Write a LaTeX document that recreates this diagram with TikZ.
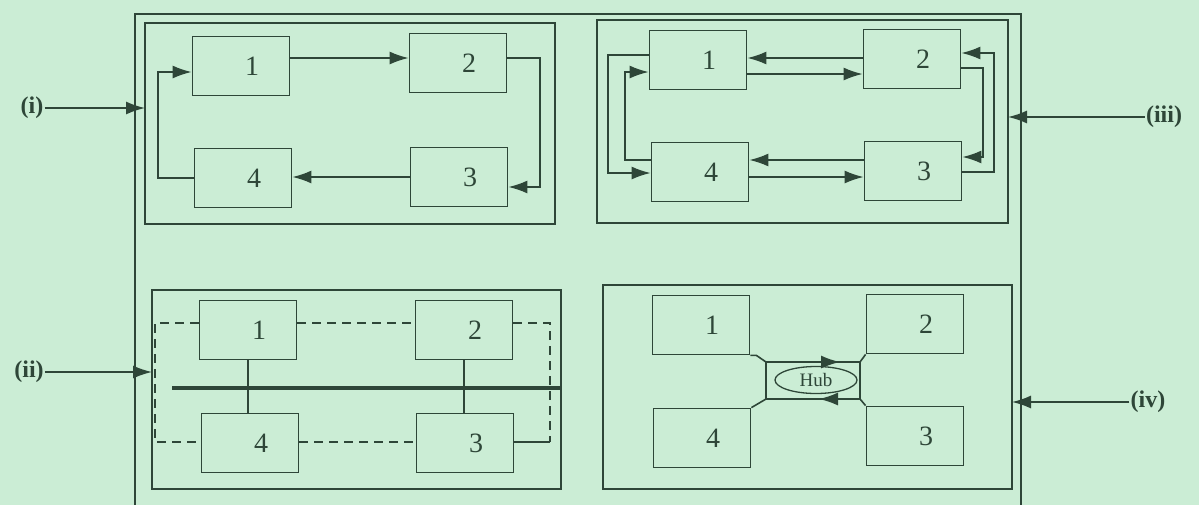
\documentclass[tikz,border=0pt]{standalone}
\usepackage{fontspec}
\setmainfont{Liberation Serif}
\usepackage{xcolor}
\usepackage{tikz}
\usetikzlibrary{arrows.meta,shapes.geometric}
\definecolor{paper}{RGB}{203,237,213}
\definecolor{ink}{RGB}{46,70,56}

\begin{document}
\begin{tikzpicture}[x=1pt, y=-1pt,
  blk/.style={draw=ink, line width=1.8pt, minimum width=97pt, minimum height=59pt, inner sep=0pt,
    font=\fontsize{28}{30}\selectfont, text=ink, execute at begin node={\hspace*{22pt}}},
  frame/.style={draw=ink, line width=1.8pt, inner sep=0pt, outer sep=0pt},
  lbl/.style={font=\fontsize{24}{26}\selectfont\bfseries, text=ink, inner sep=1pt},
  arr/.style={draw=ink, line width=1.6pt, -{Latex[length=19pt,width=13pt]}},
  wire/.style={draw=ink, line width=1.6pt},
  ring/.style={draw=ink, line width=1.6pt, dash pattern=on 9pt off 6pt}]
  \useasboundingbox (0,0) rectangle (1199,504);
  \fill[paper] (-2,-2) rectangle (1201,508);
  \draw[ink, line width=2pt] (135,14) rectangle (1021,512);
  \node[frame, minimum width=410pt, minimum height=201pt] (fi) at (350,123.5) {};
  \node[frame, minimum width=411pt, minimum height=203pt] (fiii) at (802.5,121.5) {};
  \node[frame, minimum width=409pt, minimum height=199pt] (fii) at (356.5,389.5) {};
  \node[frame, minimum width=409pt, minimum height=204pt] (fiv) at (807.5,387) {};
  \node[lbl] (li) at (32,108) {(i)};
  \node[lbl] (lii) at (29,372) {(ii)};
  \node[lbl] (liii) at (1164,117) {(iii)};
  \node[lbl] (liv) at (1148,402) {(iv)};
  \draw[arr] (li.east) -- (li.east -| fi.west);
  \draw[arr] (lii.east) -- (lii.east -| fii.west);
  \draw[arr] (liii.west) -- (liii.west -| fiii.east);
  \draw[arr] (liv.west) -- (liv.west -| fiv.east);
  \node[blk] (a1) at (241,66) {1};
  \node[blk] (a2) at (458,63) {2};
  \node[blk] (a3) at (459,177) {3};
  \node[blk] (a4) at (243,178) {4};
  \draw[arr] (a1.east |- 0,58) -- (a2.west |- 0,58);
  \draw[arr] (a2.east |- 0,58) -| (540,187) -- (a3.east |- 0,187);
  \draw[arr] (a3.west |- 0,177) -- (a4.east |- 0,177);
  \draw[arr] (a4.west |- 0,178) -| (158,72) -- (a1.west |- 0,72);
  \node[blk] (c1) at (698,60) {1};
  \node[blk] (c2) at (912,59) {2};
  \node[blk] (c3) at (913,171) {3};
  \node[blk] (c4) at (700,172) {4};
  \draw[arr] (c2.west |- 0,58) -- (c1.east |- 0,58);
  \draw[arr] (c1.east |- 0,74) -- (c2.west |- 0,74);
  \draw[arr] (c4.west |- 0,160) -| (625,72) -- (c1.west |- 0,72);
  \draw[arr] (c1.west |- 0,55) -| (608,173) -- (c4.west |- 0,173);
  \draw[arr] (c2.east |- 0,68) -| (983,157) -- (c3.east |- 0,157);
  \draw[arr] (c3.east |- 0,172) -| (994,53) -- (c2.east |- 0,53);
  \draw[arr] (c3.west |- 0,160) -- (c4.east |- 0,160);
  \draw[arr] (c4.east |- 0,177) -- (c3.west |- 0,177);
  \node[blk] (b1) at (248,330) {1};
  \node[blk] (b2) at (464,330) {2};
  \node[blk] (b3) at (465,443) {3};
  \node[blk] (b4) at (250,443) {4};
  \draw[ring] (b1.west |- 0,323) -| (155,442) -- (b4.west |- 0,442);
  \draw[ring] (b1.east |- 0,323) -- (b2.west |- 0,323);
  \draw[ring] (b2.east |- 0,323) -| (550,442);
  \draw[ring] (b4.east |- 0,442) -- (b3.west |- 0,442);
  \draw[wire] (b3.east |- 0,442) -- (550,442);
  \coordinate (bus) at (172,388);
  \draw[ink, line width=4.5pt] (bus) -- (bus -| fii.east);
  \draw[wire] (b1.south) -- (b1.south |- b4.north);
  \draw[wire] (b2.south) -- (b2.south |- b3.north);
  \node[blk] (d1) at (701,325) {1};
  \node[blk] (d2) at (915,324) {2};
  \node[blk] (d3) at (915,436) {3};
  \node[blk] (d4) at (702,438) {4};
  \node[frame, minimum width=94pt, minimum height=37pt] (hb) at (813,380.5) {};
  \node[draw=ink, line width=1.3pt, ellipse, minimum width=82pt, minimum height=27pt, inner sep=0pt,
    font=\fontsize{19}{21}\selectfont, text=ink] (hub) at (816,380) {Hub};
  \draw[wire] (d1.south east) -- ++(6,0) -- (hb.north west);
  \draw[wire] (d2.south west) -- (hb.north east);
  \draw[wire] (d3.north west) -- (hb.south east);
  \draw[wire] (d4.north east) -- (hb.south west);
  \draw[arr] (hb.north) -- ([xshift=27pt]hb.north);
  \draw[arr] ([xshift=26pt]hb.south) -- ([xshift=6pt]hb.south);
\end{tikzpicture}
\end{document}
